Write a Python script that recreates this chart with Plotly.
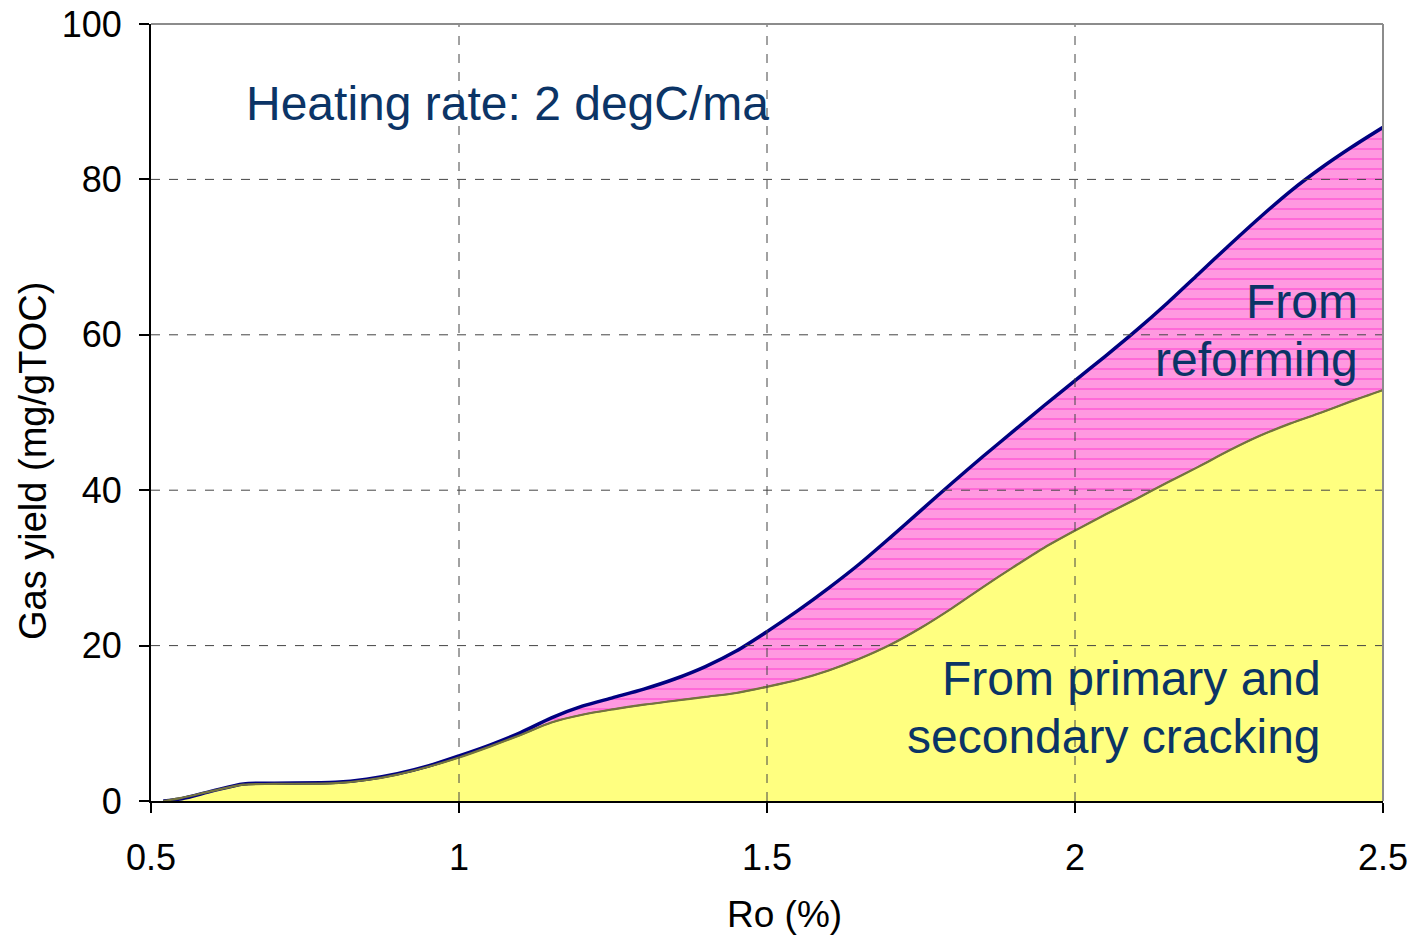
import plotly.graph_objects as go

ro = [0.52, 0.55, 0.6, 0.65, 0.7, 0.8, 0.85, 0.9, 0.95, 1.0, 1.05, 1.1, 1.15, 1.2, 1.25,
      1.3, 1.35, 1.4, 1.45, 1.5, 1.55, 1.6, 1.65, 1.7, 1.75, 1.8, 1.85, 1.9, 1.95, 2.0,
      2.05, 2.1, 2.15, 2.2, 2.25, 2.3, 2.35, 2.4, 2.45, 2.5]

cracking = [0.0, 0.4, 1.3, 2.1, 2.2, 2.3, 2.7, 3.4, 4.4, 5.6, 7.0, 8.5, 10.1, 11.1, 11.8,
            12.4, 12.9, 13.4, 13.9, 14.7, 15.6, 16.8, 18.3, 20.1, 22.3, 24.8, 27.5, 30.1, 32.6, 34.8,
            36.9, 38.9, 41.0, 43.0, 45.1, 47.0, 48.6, 50.0, 51.5, 52.9]

total = [0.0, 0.3, 1.3, 2.2, 2.3, 2.4, 2.8, 3.5, 4.5, 5.8, 7.2, 8.8, 10.7, 12.2, 13.3,
         14.4, 15.7, 17.3, 19.3, 21.8, 24.5, 27.4, 30.5, 33.9, 37.4, 40.9, 44.3, 47.6, 50.9, 54.1,
         57.3, 60.6, 64.1, 67.8, 71.5, 75.1, 78.5, 81.5, 84.2, 86.7]

x_ticks = [0.5, 1, 1.5, 2, 2.5]
x_ticklabels = ["0.5", "1", "1.5", "2", "2.5"]
y_ticks = [0, 20, 40, 60, 80, 100]
y_ticklabels = ["0", "20", "40", "60", "80", "100"]

FONT = "Liberation Sans, Arial, sans-serif"
TEXT_BLUE = "#0b3466"
SPL = dict(shape="spline", smoothing=0.8)

fig = go.Figure()

fig.add_trace(go.Scatter(
    x=ro, y=cracking, mode="lines", line=dict(color="#6e6e3c", width=1.5, **SPL),
    fill="tozeroy", fillcolor="#FFFF80", hoverinfo="skip", showlegend=False))

fig.add_trace(go.Scatter(
    x=ro, y=total, mode="lines", line=dict(color="#000080", width=3.5, **SPL),
    fill="tonexty", fillcolor="#FF99E0",
    fillpattern=dict(shape="-", fgcolor="#FF3CCF", bgcolor="#FF99E0", size=10, solidity=0.2),
    hoverinfo="skip", showlegend=False))

# boundary line of the lower area drawn on top
fig.add_trace(go.Scatter(
    x=ro, y=cracking, mode="lines", line=dict(color="#74743e", width=2.2, **SPL),
    hoverinfo="skip", showlegend=False))

grid_line = dict(color="#444444", width=1, dash="dash")
for v in x_ticks[1:-1]:
    fig.add_shape(type="line", x0=v, x1=v, y0=0, y1=1, xref="x", yref="paper", line=grid_line, layer="above")
for v in y_ticks[1:-1]:
    fig.add_shape(type="line", x0=0, x1=1, y0=v, y1=v, xref="paper", yref="y", line=grid_line, layer="above")

# gray top/right frame
fig.add_shape(type="line", x0=0, x1=1, y0=1, y1=1, xref="paper", yref="paper",
              line=dict(color="#8c8c8c", width=2), layer="above")
fig.add_shape(type="line", x0=1, x1=1, y0=0, y1=1, xref="paper", yref="paper",
              line=dict(color="#8c8c8c", width=2), layer="above")

ann_font = dict(family=FONT, size=48, color=TEXT_BLUE)
fig.add_annotation(x=0.0756, y=0.898, xref="paper", yref="paper", xanchor="left", yanchor="middle",
                   text="Heating rate: 2 degC/ma", showarrow=False, font=ann_font)
for txt, yy in [("From", 0.643), ("reforming", 0.568)]:
    fig.add_annotation(x=0.981, y=yy, xref="paper", yref="paper", xanchor="right", yanchor="middle",
                       text=txt, showarrow=False, font=ann_font)
for txt, yy in [("From primary and", 0.158), ("secondary cracking", 0.083)]:
    fig.add_annotation(x=0.951, y=yy, xref="paper", yref="paper", xanchor="right", yanchor="middle",
                       text=txt, showarrow=False, font=ann_font)

# axis titles (offset from the centre, as in the original)
fig.add_annotation(x=0.5146, y=-0.1467, xref="paper", yref="paper", xanchor="center", yanchor="middle",
                   text="Ro (%)", showarrow=False, font=dict(family=FONT, size=37, color="black"))
fig.add_annotation(x=-0.0958, y=0.4376, xref="paper", yref="paper", xanchor="center", yanchor="middle",
                   text="Gas yield (mg/gTOC)", textangle=-90, showarrow=False,
                   font=dict(family=FONT, size=38, color="black"))

fig.update_xaxes(
    range=[0.5, 2.5], tickvals=x_ticks, ticktext=x_ticklabels, showgrid=False, zeroline=False,
    showline=True, linecolor="black", linewidth=2, ticks="outside", ticklen=10, tickwidth=1.5,
    tickcolor="black", tickfont=dict(family=FONT, size=36, color="black"), ticklabelstandoff=14,
    layer="above traces", automargin=False)
fig.update_yaxes(
    range=[0, 100], tickvals=y_ticks, ticktext=y_ticklabels, showgrid=False, zeroline=False,
    showline=True, linecolor="black", linewidth=2, ticks="outside", ticklen=10, tickwidth=1.5,
    tickcolor="black", tickfont=dict(family=FONT, size=36, color="black"), ticklabelstandoff=10,
    layer="above traces", automargin=False)

fig.update_layout(
    width=1414, height=937, margin=dict(l=151, r=31, t=24, b=136, autoexpand=False),
    plot_bgcolor="white", paper_bgcolor="white", showlegend=False)

fig.write_html("out.html")
